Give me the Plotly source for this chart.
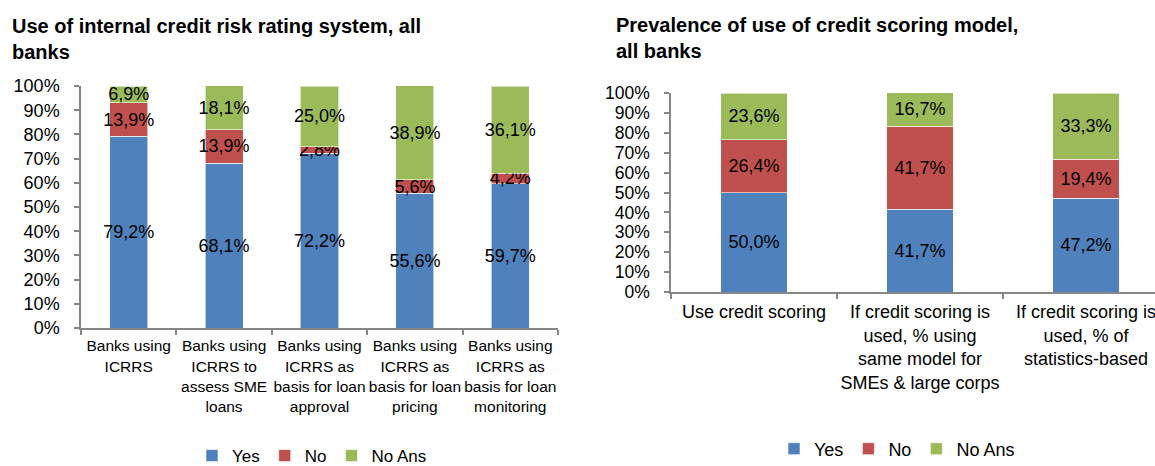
import plotly.graph_objects as go

# --- Left panel: use of internal credit risk rating system (ICRRS) ---
icrrs_categories = [
    "Banks using<br>ICRRS",
    "Banks using<br>ICRRS to<br>assess SME<br>loans",
    "Banks using<br>ICRRS as<br>basis for loan<br>approval",
    "Banks using<br>ICRRS as<br>basis for loan<br>pricing",
    "Banks using<br>ICRRS as<br>basis for loan<br>monitoring",
]
icrrs_yes = [79.2, 68.1, 72.2, 55.6, 59.7]
icrrs_no = [13.9, 13.9, 2.8, 5.6, 4.2]
icrrs_noans = [6.9, 18.1, 25.0, 38.9, 36.1]

# --- Right panel: prevalence of credit scoring model ---
scoring_categories = [
    "Use credit scoring",
    "If credit scoring is<br>used, % using<br>same model for<br>SMEs & large corps",
    "If credit scoring is<br>used, % of<br>statistics-based",
]
scoring_yes = [50.0, 41.7, 47.2]
scoring_no = [26.4, 41.7, 19.4]
scoring_noans = [23.6, 16.7, 33.3]

series_names = ["Yes", "No", "No Ans"]
colors = ["#4F81BD", "#C0504D", "#9BBB59"]

FONT = "Arial, Liberation Sans, sans-serif"
AXIS_GRAY = "#868686"
W, H = 1155, 466


def pct_label(v):
    return f"{v:.1f}%".replace(".", ",")


fig = go.Figure()

left_series = [icrrs_yes, icrrs_no, icrrs_noans]
right_series = [scoring_yes, scoring_no, scoring_noans]


def add_stack(categories, series, xa, ya, legend_id):
    for name, color, vals in zip(series_names, colors, series):
        fig.add_trace(go.Bar(
            x=categories, y=vals, name=name,
            marker=dict(color=color, line=dict(color="rgba(255,255,255,0.6)", width=1)),
            width=0.4,
            text=[pct_label(v) for v in vals],
            textposition="inside", insidetextanchor="middle", textangle=0,
            constraintext="none",
            textfont=dict(family=FONT, size=18, color="#000000"),
            xaxis=xa, yaxis=ya, legend=legend_id,
            hoverinfo="skip",
        ))


add_stack(icrrs_categories, left_series, "x", "y", "legend")
add_stack(scoring_categories, right_series, "x2", "y2", "legend2")

common_y = dict(
    range=[0, 100], dtick=10, ticksuffix="%",
    showgrid=False, zeroline=False, automargin=False,
    showline=True, linecolor=AXIS_GRAY, linewidth=1.5,
    ticks="outside", ticklen=5, tickcolor=AXIS_GRAY, tickwidth=1.5,
    ticklabelstandoff=11,
)
common_x = dict(
    type="category", showgrid=False, zeroline=False, automargin=False,
    showline=True, linecolor=AXIS_GRAY, linewidth=1.5,
    ticks="outside", ticklen=5, tickcolor=AXIS_GRAY, tickwidth=1.5,
    tickson="boundaries", tickangle=0, ticklabelstandoff=3,
)

fig.update_layout(
    width=W, height=H,
    margin=dict(l=0, r=0, t=0, b=0, autoexpand=False),
    paper_bgcolor="white", plot_bgcolor="white",
    barmode="stack",
    font=dict(family=FONT, color="#000000"),
    xaxis=dict(domain=[81 / W, 558 / W], range=[-0.5, 4.5],
               tickfont=dict(size=15.5), anchor="y", **common_x),
    yaxis=dict(domain=[1 - 328 / H, 1 - 86 / H], anchor="x",
               tickfont=dict(size=18), **common_y),
    xaxis2=dict(domain=[671 / W, 1.0], range=[-0.5, -0.5 + (W - 671) / 166],
                tickfont=dict(size=18), anchor="y2", **common_x),
    yaxis2=dict(domain=[1 - 292 / H, 1 - 93 / H], anchor="x2",
                tickfont=dict(size=17.5), **common_y),
    legend=dict(orientation="h", x=312 / W, y=1 - 456 / H,
                xanchor="center", yanchor="middle",
                font=dict(size=17), itemwidth=30, traceorder="normal"),
    legend2=dict(orientation="h", x=897 / W, y=1 - 449 / H,
                 xanchor="center", yanchor="middle",
                 font=dict(size=18), itemwidth=30, traceorder="normal"),
    annotations=[
        dict(text="<b>Use of internal credit risk rating system, all<br>banks</b>",
             x=10 / W, y=1 - 13 / H, xref="paper", yref="paper",
             xanchor="left", yanchor="top", align="left", showarrow=False,
             font=dict(size=20, family=FONT, color="#000000")),
        dict(text="<b>Prevalence of use of credit scoring model,<br>all banks</b>",
             x=614 / W, y=1 - 12 / H, xref="paper", yref="paper",
             xanchor="left", yanchor="top", align="left", showarrow=False,
             font=dict(size=20, family=FONT, color="#000000")),
    ],
)

fig.write_html("out.html")
